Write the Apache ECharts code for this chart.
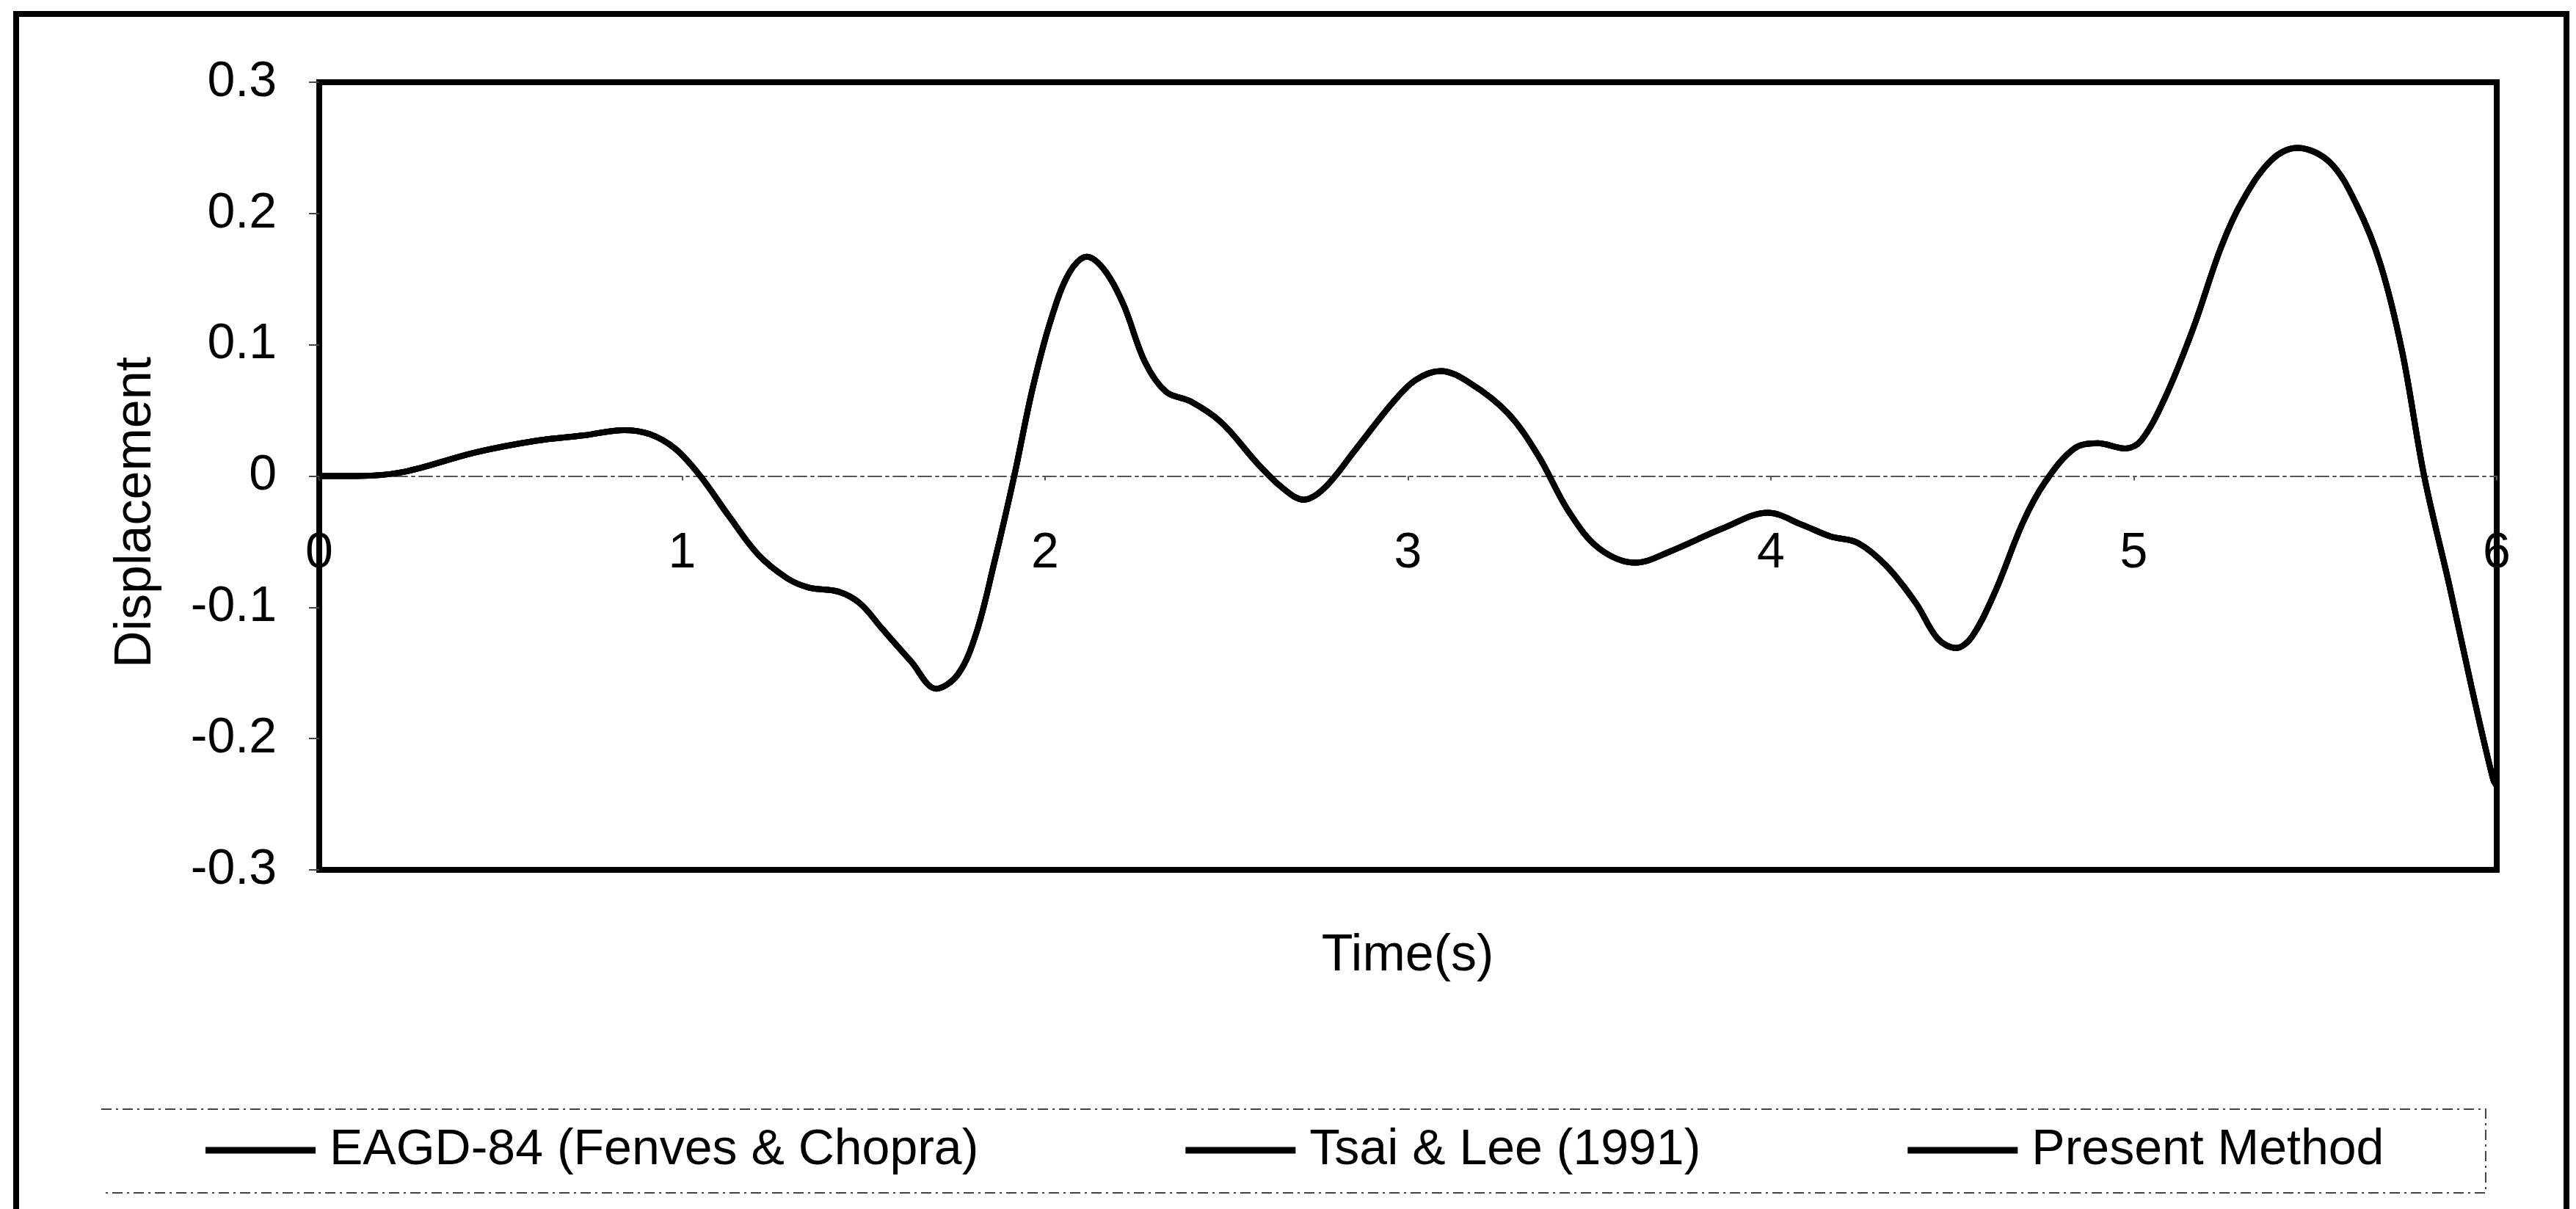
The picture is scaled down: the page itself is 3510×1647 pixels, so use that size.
<!DOCTYPE html>
<html>
<head>
<meta charset="utf-8">
<script src="https://cdn.jsdelivr.net/npm/echarts@6/dist/echarts.min.js"></script>
<style>
  html, body { margin: 0; padding: 0; background: #fff; }
  #chart { width: 3510px; height: 1647px; }
</style>
</head>
<body>
<div id="chart"></div>
<script>
// ---- Data ----
const seriesNames = ['EAGD-84 (Fenves & Chopra)', 'Tsai & Lee (1991)', 'Present Method'];

const time = [0.00, 0.10, 0.23, 0.43, 0.60, 0.73, 0.84, 0.91, 0.98, 1.05,
  1.13, 1.21, 1.29, 1.35, 1.43, 1.49, 1.55, 1.63, 1.70, 1.76,
  1.81, 1.86, 1.915, 1.965, 2.016, 2.067, 2.115, 2.166, 2.217, 2.275,
  2.334, 2.40, 2.485, 2.587, 2.654, 2.712, 2.77, 2.855, 2.955, 3.02,
  3.09, 3.17, 3.275, 3.358, 3.443, 3.526, 3.627, 3.726, 3.866, 3.992,
  4.085, 4.164, 4.24, 4.32, 4.40, 4.46, 4.51, 4.555, 4.618, 4.695,
  4.757, 4.836, 4.90, 4.976, 5.02, 5.085, 5.163, 5.24, 5.30, 5.38,
  5.45, 5.54, 5.615, 5.68, 5.74, 5.80, 5.87, 5.93, 5.99, 6.00];

const eagd84 = [0.000, 0.000, 0.003, 0.018, 0.027, 0.031, 0.035, 0.032, 0.021, 0.000,
  -0.031, -0.060, -0.078, -0.085, -0.088, -0.097, -0.116, -0.141, -0.162, -0.151,
  -0.120, -0.066, 0.000, 0.066, 0.119, 0.155, 0.167, 0.156, 0.130, 0.087,
  0.064, 0.057, 0.041, 0.009, -0.009, -0.018, -0.009, 0.020, 0.055, 0.073,
  0.080, 0.071, 0.048, 0.016, -0.027, -0.055, -0.066, -0.057, -0.040, -0.028,
  -0.037, -0.046, -0.051, -0.069, -0.097, -0.124, -0.131, -0.122, -0.088, -0.035,
  -0.004, 0.021, 0.025, 0.021, 0.027, 0.059, 0.112, 0.174, 0.210, 0.241,
  0.250, 0.239, 0.206, 0.161, 0.094, 0.000, -0.084, -0.160, -0.231, -0.236];

const tsaiLee = [0.000, 0.000, 0.003, 0.018, 0.027, 0.031, 0.035, 0.032, 0.021, 0.000,
  -0.031, -0.060, -0.078, -0.085, -0.088, -0.097, -0.116, -0.141, -0.162, -0.151,
  -0.120, -0.066, 0.000, 0.066, 0.119, 0.155, 0.167, 0.156, 0.130, 0.087,
  0.064, 0.057, 0.041, 0.009, -0.009, -0.018, -0.009, 0.020, 0.055, 0.073,
  0.080, 0.071, 0.048, 0.016, -0.027, -0.055, -0.066, -0.057, -0.040, -0.028,
  -0.037, -0.046, -0.051, -0.069, -0.097, -0.124, -0.131, -0.122, -0.088, -0.035,
  -0.004, 0.021, 0.025, 0.021, 0.027, 0.059, 0.112, 0.174, 0.210, 0.241,
  0.250, 0.239, 0.206, 0.161, 0.094, 0.000, -0.084, -0.160, -0.231, -0.236];

const presentMethod = [0.000, 0.000, 0.003, 0.018, 0.027, 0.031, 0.035, 0.032, 0.021, 0.000,
  -0.031, -0.060, -0.078, -0.085, -0.088, -0.097, -0.116, -0.141, -0.162, -0.151,
  -0.120, -0.066, 0.000, 0.066, 0.119, 0.155, 0.167, 0.156, 0.130, 0.087,
  0.064, 0.057, 0.041, 0.009, -0.009, -0.018, -0.009, 0.020, 0.055, 0.073,
  0.080, 0.071, 0.048, 0.016, -0.027, -0.055, -0.066, -0.057, -0.040, -0.028,
  -0.037, -0.046, -0.051, -0.069, -0.097, -0.124, -0.131, -0.122, -0.088, -0.035,
  -0.004, 0.021, 0.025, 0.021, 0.027, 0.059, 0.112, 0.174, 0.210, 0.241,
  0.250, 0.239, 0.206, 0.161, 0.094, 0.000, -0.084, -0.160, -0.231, -0.236];

const xTicks = [0, 1, 2, 3, 4, 5, 6];
const yTicks = [-0.3, -0.2, -0.1, 0, 0.1, 0.2, 0.3];
const xTitle = 'Time(s)';
const yTitle = 'Displacement';

// ---- Build chart ----
const FONT = '"Liberation Sans", Arial, Helvetica, sans-serif';
const pair = (xs, ys) => xs.map((x, i) => [x, ys[i]]);
const allValues = [eagd84, tsaiLee, presentMethod];

const GRID = { left: 435, top: 112, right: 108, bottom: 462 };
const plotH = 1647 - GRID.top - GRID.bottom;
const yMin = yTicks[0], yMax = yTicks[yTicks.length - 1];
// distance from the grid bottom up to the value 0, so the x axis sits on the zero line
const zeroOffset = -plotH * (0 - yMin) / (yMax - yMin);

const chart = echarts.init(document.getElementById('chart'), null, { renderer: 'canvas' });

const series = seriesNames.map((name, i) => ({
  name: name,
  type: 'line',
  data: pair(time, allValues[i]),
  smooth: 0.35,
  symbol: 'none',
  lineStyle: { color: '#000', width: 8 },
  itemStyle: { color: '#000' },
  z: 3
}));

chart.setOption({
  animation: false,
  backgroundColor: '#fff',
  textStyle: { fontFamily: FONT },
  grid: Object.assign({ show: true, borderColor: '#000', borderWidth: 8, backgroundColor: 'transparent' }, GRID),
  xAxis: {
    type: 'value',
    position: 'bottom',
    offset: zeroOffset,
    min: xTicks[0], max: xTicks[xTicks.length - 1], interval: 1,
    axisLine: { onZero: false, lineStyle: { color: '#555', width: 2, type: [18, 6, 4, 6] } },
    axisTick: { show: true, length: 6, lineStyle: { color: '#555', width: 2 } },
    splitLine: { show: false },
    axisLabel: { color: '#000', fontSize: 68, fontFamily: FONT, margin: 72, showMinLabel: true, showMaxLabel: true }
  },
  yAxis: {
    type: 'value',
    min: yMin, max: yMax, interval: 0.1,
    axisLine: { show: false },
    axisTick: { show: true, length: 14, lineStyle: { color: '#444', width: 2 } },
    splitLine: { show: false },
    axisLabel: { color: '#000', fontSize: 68, fontFamily: FONT, margin: 58,
      formatter: v => String(Math.round(v * 10) / 10) }
  },
  legend: {
    data: seriesNames,
    orient: 'horizontal',
    left: 280, top: 1527,
    padding: 0,
    icon: 'rect',
    itemWidth: 150, itemHeight: 9,
    itemGap: 282,
    textStyle: { color: '#000', fontSize: 68, fontFamily: FONT, lineHeight: 80, padding: [0, 0, 0, 14] }
  },
  graphic: [
    { type: 'rect', z: 0, silent: true,
      shape: { x: 22, y: 19, width: 3475, height: 1700 },
      style: { fill: 'none', stroke: '#000', lineWidth: 8 } },
    { type: 'polyline', z: 0, silent: true,
      shape: { points: [[138, 1511], [3387, 1511], [3387, 1625], [138, 1625]] },
      style: { fill: 'none', stroke: '#444', lineWidth: 2, lineDash: [14, 6, 3, 6] } },
    { type: 'text', silent: true, x: 1918, y: 1303,
      style: { text: xTitle, font: '70px ' + FONT, fill: '#000', textAlign: 'center', textVerticalAlign: 'middle' } },
    { type: 'text', silent: true, x: 186, y: 698, rotation: Math.PI / 2,
      style: { text: yTitle, font: '70px ' + FONT, fill: '#000', textAlign: 'center', textVerticalAlign: 'middle' } }
  ],
  series: series
});
</script>
</body>
</html>
